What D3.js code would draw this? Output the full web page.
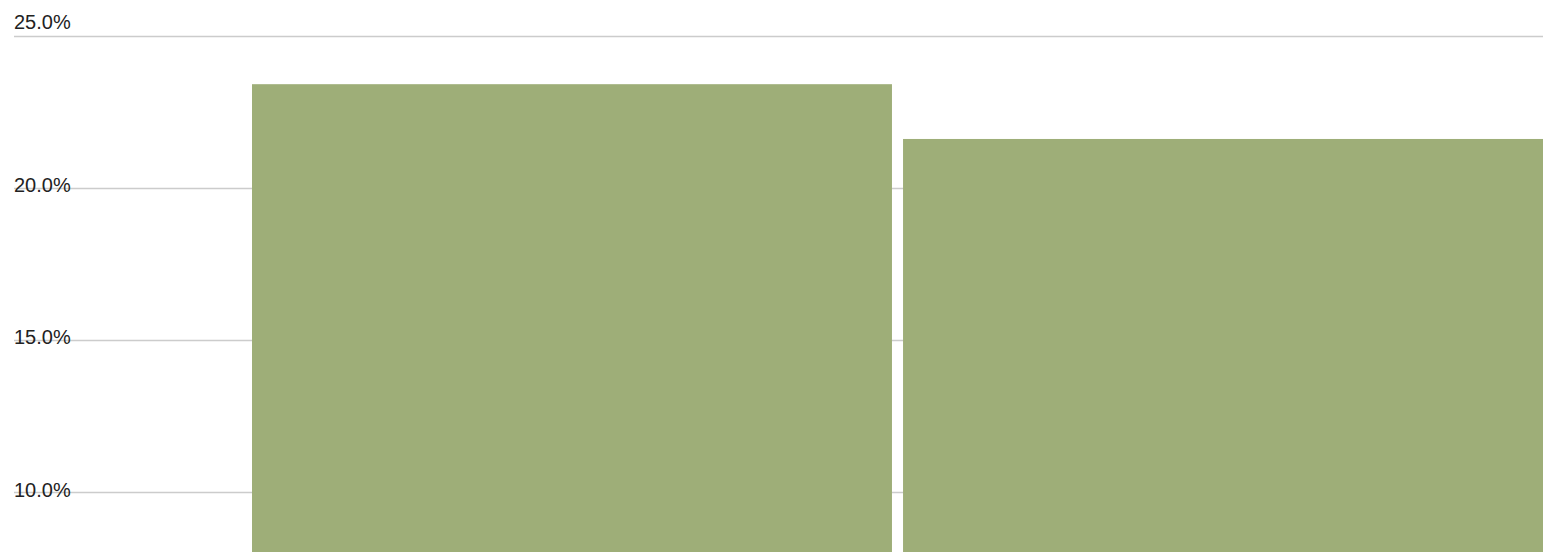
<!DOCTYPE html>
<html>
<head>
<meta charset="UTF-8">
<title>Bar Chart</title>
<style>
  body { margin: 0; background: #fff; }
  svg { display: block; }
  .tick-label { font-family: "Liberation Sans", Arial, sans-serif; font-size: 20px; fill: #222; }
</style>
</head>
<body>
<div id="chart"></div>
<script src="https://d3js.org/d3.v7.min.js"></script>
<script>
const categories = ["A", "B"];
const values = [23.4, 21.6];
const tickValues = [10, 15, 20, 25];
const tickLabels = ["10.0%", "15.0%", "20.0%", "25.0%"];

const width = 1543, height = 552;

const svg = d3.select("#chart").append("svg")
  .attr("width", width)
  .attr("height", height);

const y = d3.scaleLinear().domain([10, 25]).range([492, 35.5]);
const x = d3.scaleBand().domain(categories).range([252, 1543]).paddingInner(0.017);

// gridlines
svg.append("g").selectAll("line").data(tickValues).join("line")
  .attr("x1", 14).attr("x2", width)
  .attr("y1", d => Math.round(y(d)) + 0.5)
  .attr("y2", d => Math.round(y(d)) + 0.5)
  .attr("stroke", "#cccccc")
  .attr("stroke-width", 1.5);

// labels
svg.append("g").selectAll("text").data(tickValues).join("text")
  .attr("class", "tick-label")
  .attr("x", 14)
  .attr("y", (d, i) => i === tickValues.length - 1 ? y(d) - 7 : y(d) + 4.5)
  .text((d, i) => tickLabels[i]);

// bars
svg.append("g").selectAll("rect").data(values).join("rect")
  .attr("x", (d, i) => x(categories[i]))
  .attr("width", x.bandwidth())
  .attr("y", d => y(d))
  .attr("height", d => height - y(d))
  .attr("fill", "#9eae78");
</script>
</body>
</html>
